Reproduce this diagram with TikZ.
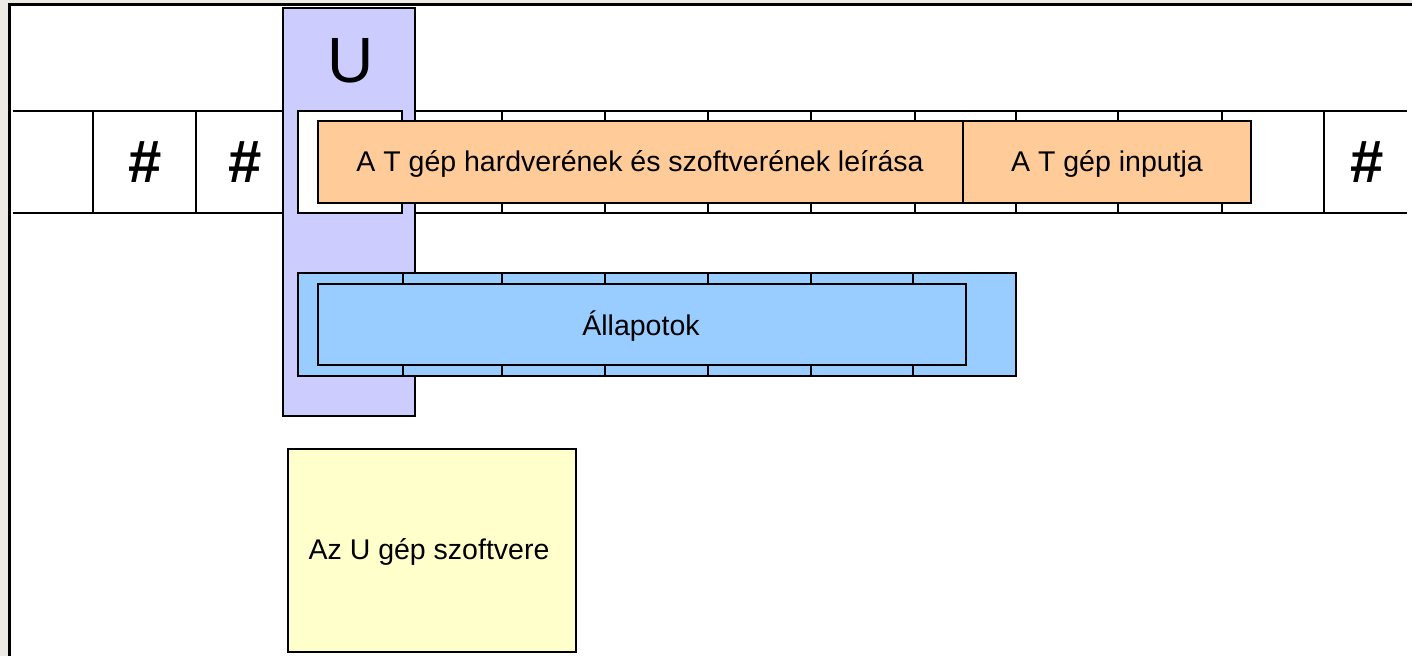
\documentclass[tikz,border=0pt]{standalone}
\usepackage{fontspec}
\setmainfont{Liberation Sans}
\definecolor{bgbeige}{HTML}{EDE9E3}
\definecolor{lav}{HTML}{CCCCFF}
\definecolor{orng}{HTML}{FFCC99}
\definecolor{lblue}{HTML}{99CCFF}
\definecolor{lyel}{HTML}{FFFFCC}
\begin{document}
\begin{tikzpicture}[x=1pt,y=-1pt,line width=2pt,
  boxline/.style={draw=black,line width=2pt},
  lbl/.style={font=\fontsize{28.5}{32}\selectfont,inner sep=0pt,anchor=base},
  hashlbl/.style={font=\bfseries\fontsize{60}{64}\selectfont,inner sep=0pt,anchor=base},
  ulbl/.style={font=\fontsize{64}{68}\selectfont,inner sep=0pt,anchor=base}]
\useasboundingbox (0,0) rectangle (1412,656);
\fill[bgbeige] (0,0) rectangle (1412,656);
\fill[white] (9,4.5) rectangle (1412,656);
\draw[line width=3pt] (9,656) -- (9,4.8) -- (1412,4.8);
% tape
\draw (12.5,110.5) -- (1407,110.5);
\draw (12.5,212.5) -- (1407,212.5);
\foreach \x in {93,196,502,605,708,811,915,1016,1118,1222,1324}
  \draw (\x,110.5) -- (\x,212.5);
\node[hashlbl] (h1) at (145,182) {\#};
\node[hashlbl] (h2) at (245,182) {\#};
\node[hashlbl] (h3) at (1367,182) {\#};
% U column
\draw[boxline,fill=lav] (283,7.5) rectangle (414.5,416);
\node[ulbl] (u) at (350.5,82) {U};
% head cell
\draw[boxline,fill=white] (298,110.5) rectangle (401.5,213);
% orange description
\draw[boxline,fill=orng] (317.5,120.5) rectangle (1251,203);
\draw (963,120.5) -- (963,203);
\node[lbl] (desc) at (640,171) {A T gép hardverének és szoftverének leírása};
\node[lbl] (inp) at (1107,171) {A T gép inputja};
% states
\draw[boxline,fill=lblue] (298,273) rectangle (1016,376);
\foreach \x in {403,502,605,708,811,913}
  \draw (\x,273) -- (\x,376);
\draw[boxline,fill=lblue] (317.5,284) rectangle (966,365);
\node[lbl] (st) at (641,335) {Állapotok};
% software
\draw[boxline,fill=lyel] (288,449) rectangle (576,652);
\node[lbl] (sw) at (429,559) {Az U gép szoftvere};
\end{tikzpicture}
\end{document}
